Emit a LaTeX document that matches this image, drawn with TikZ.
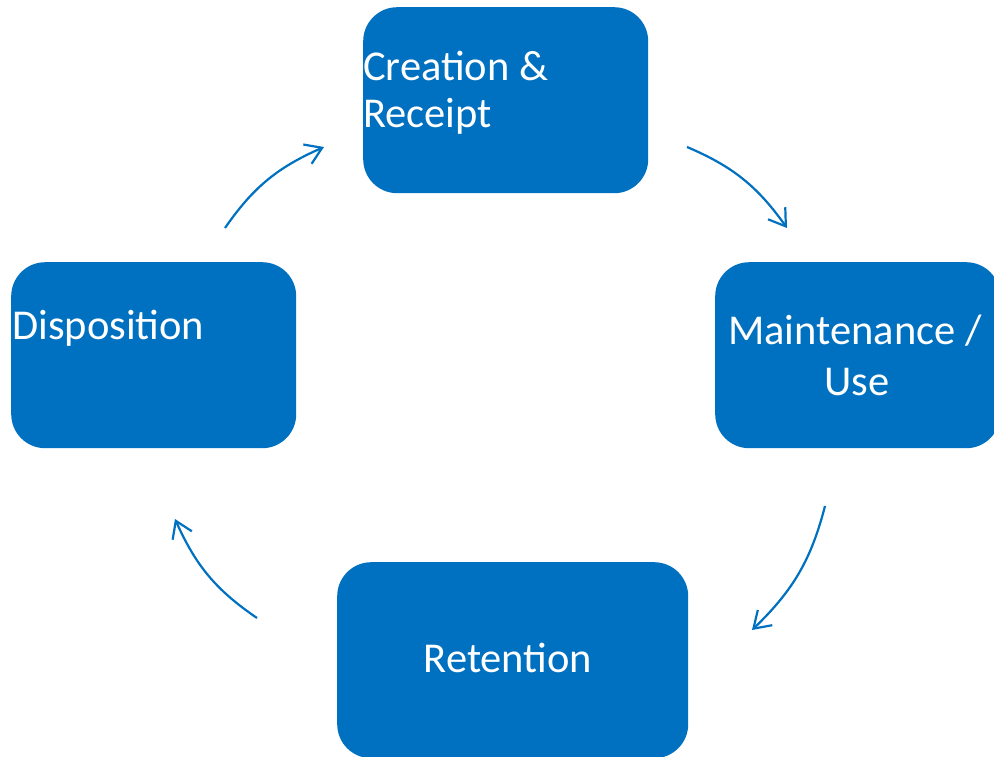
\documentclass[tikz,border=0pt]{standalone}
\usepackage{fontspec}
\setmainfont{Carlito}
\usetikzlibrary{arrows.meta,bending}
\definecolor{cycleblue}{HTML}{0070C0}
\begin{document}
\begin{tikzpicture}[x=1pt,y=-1pt,
  stage/.style={fill=cycleblue, draw=none, rounded corners=34pt, inner sep=0pt,
    minimum width=285pt, minimum height=186pt, anchor=north west},
  stagetext/.style={text=white, font=\fontsize{42.5}{47}\selectfont, inner sep=0pt},
  flow/.style={draw=cycleblue, line width=2.2pt,
    -{Straight Barb[length=16pt,width=21pt]}, bend left=16}
]
\useasboundingbox (0,0) rectangle (994,756);
\clip (0,0) rectangle (994,756);

% the four stages of the cycle
\node[stage] (create) at (363,7) {};
\node[stage] (maint) at (715,262) {};
\node[stage, minimum width=351pt, minimum height=196pt] (retain) at (337,562) {};
\node[stage] (dispose) at (11,262) {};

% stage captions
\node[stagetext, anchor=base west] (createA) at (363,80) {Creation \&};
\node[stagetext, anchor=base west] (createB) at (363,127) {Receipt};
\node[stagetext, anchor=base] (maintA) at (855,344) {Maintenance /};
\node[stagetext, anchor=base] (maintB) at (857,395) {Use};
\node[stagetext, anchor=base] (retainA) at (508,672) {Retention};
\node[stagetext, anchor=base west] (disposeA) at (12,339) {Disposition};

% arrow end points between the stages
\coordinate (s1) at (687,147); \coordinate (e1) at (787,228);
\coordinate (s2) at (825,506); \coordinate (e2) at (752,630);
\coordinate (s3) at (257,618); \coordinate (e3) at (175,519);
\coordinate (s4) at (225,228); \coordinate (e4) at (324,147);

\draw[flow] (s1) to (e1);
\draw[flow] (s2) to (e2);
\draw[flow] (s3) to (e3);
\draw[flow] (s4) to (e4);
\end{tikzpicture}
\end{document}
